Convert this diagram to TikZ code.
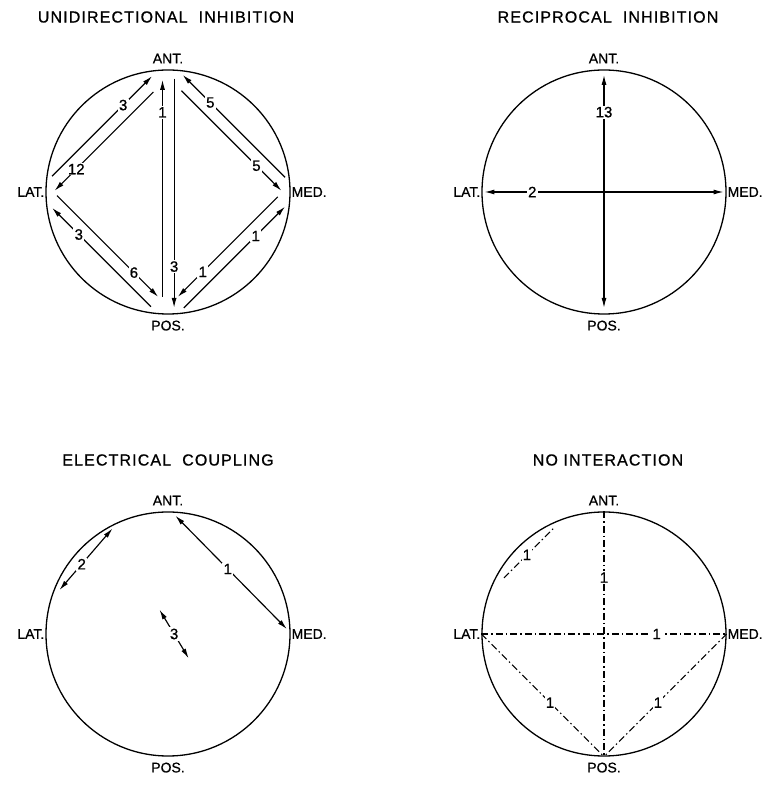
\documentclass[tikz,border=0pt]{standalone}
\usepackage{fontspec}
\setmainfont{Liberation Sans}
\newfontfamily\titlefont[LetterSpace=7,FakeBold=0.8]{Liberation Sans}
\newfontfamily\lblfont[FakeBold=0.8]{Liberation Sans}
\usetikzlibrary{arrows.meta}
\begin{document}
\begin{tikzpicture}[x=1pt,y=1pt,
  ring/.style={circle,draw,line width=1.3pt,minimum size=244pt,inner sep=0pt},
  dirlbl/.style={font=\lblfont\fontsize{14}{16}\selectfont,inner sep=0.8pt},
  num/.style={fill=white,inner sep=1.2pt,font=\lblfont\fontsize{15}{16}\selectfont},
  arr/.style={line width=1.15pt,-{Latex[length=10pt,width=5pt]}},
  darr/.style={line width=1.15pt,{Latex[length=10pt,width=5pt]}-{Latex[length=10pt,width=5pt]}},
  dd/.style={line width=1.15pt,dash pattern=on 7pt off 3pt on 1.5pt off 3pt},
  ttl/.style={font=\titlefont\fontsize{16}{18}\selectfont}]
\useasboundingbox (0,0) rectangle (772,785);

% titles
\node[ttl] (t1) at (166,768) {UNIDIRECTIONAL\ \ INHIBITION};
\node[ttl] (t2) at (608,768) {RECIPROCAL\ \ INHIBITION};
\node[ttl] (t3) at (168,325) {ELECTRICAL\ \ COUPLING};
\node[ttl] (t4) at (608,325) {NO INTERACTION};

% ---------- unidirectional inhibition ----------
\begin{scope}[shift={(168,593)},x=122pt,y=122pt]
\node[ring] (a) at (0,0) {};
\node[dirlbl,anchor=south] (aant) at ([yshift=5pt]a.north) {ANT.};
\node[dirlbl,anchor=east] (alat) at (a.west) {LAT.};
\node[dirlbl,anchor=west] (amed) at (a.east) {MED.};
\node[dirlbl,anchor=north] (apos) at ([yshift=-5pt]a.south) {POS.};
\coordinate (av1) at (-0.045,-0.86); \coordinate (av2) at (-0.045,0.92);
\coordinate (av3) at (0.05,0.93);   \coordinate (av4) at (0.05,-0.95);
\draw[arr] (av1) -- node[num,pos=0.85] (an1) {1} (av2);
\draw[arr] (av3) -- node[num,pos=0.82] (an2) {3} (av4);
\coordinate (al1) at (-0.95,0.13); \coordinate (al2) at (-0.13,0.95);
\coordinate (al3) at (-0.12,0.82); \coordinate (al4) at (-0.93,0.01);
\draw[arr] (al1) -- node[num,pos=0.71] (an3) {3} (al2);
\draw[arr] (al3) -- node[num,pos=0.78] (an4) {12} (al4);
\coordinate (ap1) at (-0.14,-0.94); \coordinate (ap2) at (-0.95,-0.13);
\coordinate (ap3) at (-0.91,-0.03); \coordinate (ap4) at (-0.08,-0.86);
\draw[arr] (ap1) -- node[num,pos=0.73] (an5) {3} (ap2);
\draw[arr] (ap3) -- node[num,pos=0.76] (an6) {6} (ap4);
\coordinate (am1) at (0.96,0.12); \coordinate (am2) at (0.12,0.96);
\coordinate (am3) at (0.11,0.83); \coordinate (am4) at (0.93,0.01);
\draw[arr] (am1) -- node[num,pos=0.73] (an7) {5} (am2);
\draw[arr] (am3) -- node[num,pos=0.75] (an8) {5} (am4);
\coordinate (aq1) at (0.13,-0.95); \coordinate (aq2) at (0.96,-0.12);
\coordinate (aq3) at (0.90,-0.04); \coordinate (aq4) at (0.08,-0.86);
\draw[arr] (aq1) -- node[num,pos=0.71] (an9) {1} (aq2);
\draw[arr] (aq3) -- node[num,pos=0.75] (an10) {1} (aq4);
\end{scope}

% ---------- reciprocal inhibition ----------
\begin{scope}[shift={(604,593)},x=122pt,y=122pt]
\node[ring] (b) at (0,0) {};
\node[dirlbl,anchor=south] (bant) at ([yshift=5pt]b.north) {ANT.};
\node[dirlbl,anchor=east] (blat) at (b.west) {LAT.};
\node[dirlbl,anchor=west] (bmed) at (b.east) {MED.};
\node[dirlbl,anchor=north] (bpos) at ([yshift=-5pt]b.south) {POS.};
\coordinate (bv1) at (0,0.96); \coordinate (bv2) at (0,-0.95);
\coordinate (bh1) at (-0.98,0); \coordinate (bh2) at (0.98,0);
\draw[darr] (bv1) -- node[num,pos=0.16] (bn1) {13} (bv2);
\draw[darr] (bh1) -- node[num,pos=0.20] (bn2) {2} (bh2);
\end{scope}

% ---------- electrical coupling ----------
\begin{scope}[shift={(168,151)},x=122pt,y=122pt]
\node[ring] (c) at (0,0) {};
\node[dirlbl,anchor=south] (cant) at ([yshift=5pt]c.north) {ANT.};
\node[dirlbl,anchor=east] (clat) at (c.west) {LAT.};
\node[dirlbl,anchor=west] (cmed) at (c.east) {MED.};
\node[dirlbl,anchor=north] (cpos) at ([yshift=-5pt]c.south) {POS.};
\coordinate (c1) at (-0.89,0.36); \coordinate (c2) at (-0.455,0.865);
\coordinate (c3) at (0.06,0.97);  \coordinate (c4) at (0.975,0.04);
\coordinate (c5) at (-0.07,0.20); \coordinate (c6) at (0.17,-0.20);
\draw[darr] (c1) -- node[num,pos=0.42] (cn1) {2} (c2);
\draw[darr] (c3) -- node[num,pos=0.47] (cn2) {1} (c4);
\draw[darr] (c5) -- node[num,pos=0.5] (cn3) {3} (c6);
\end{scope}

% ---------- no interaction ----------
\begin{scope}[shift={(604,151)},x=122pt,y=122pt]
\node[ring] (d) at (0,0) {};
\node[dirlbl,anchor=south] (dant) at ([yshift=5pt]d.north) {ANT.};
\node[dirlbl,anchor=east] (dlat) at (d.west) {LAT.};
\node[dirlbl,anchor=west] (dmed) at (d.east) {MED.};
\node[dirlbl,anchor=north] (dpos) at ([yshift=-5pt]d.south) {POS.};
\draw[dd] (d.north) -- node[num,pos=0.27] (dn1) {1} (d.south);
\draw[dd] (d.west) -- node[num,pos=0.715] (dn2) {1} (d.east);
\draw[dd] (d.west) -- node[num,pos=0.56] (dn3) {1} (d.south);
\draw[dd] (d.east) -- node[num,pos=0.56] (dn4) {1} (d.south);
\coordinate (d1) at (-0.82,0.46); \coordinate (d2) at (-0.41,0.87);
\draw[dd] (d1) -- node[num,pos=0.46] (dn5) {1} (d2);
\end{scope}
\end{tikzpicture}
\end{document}
